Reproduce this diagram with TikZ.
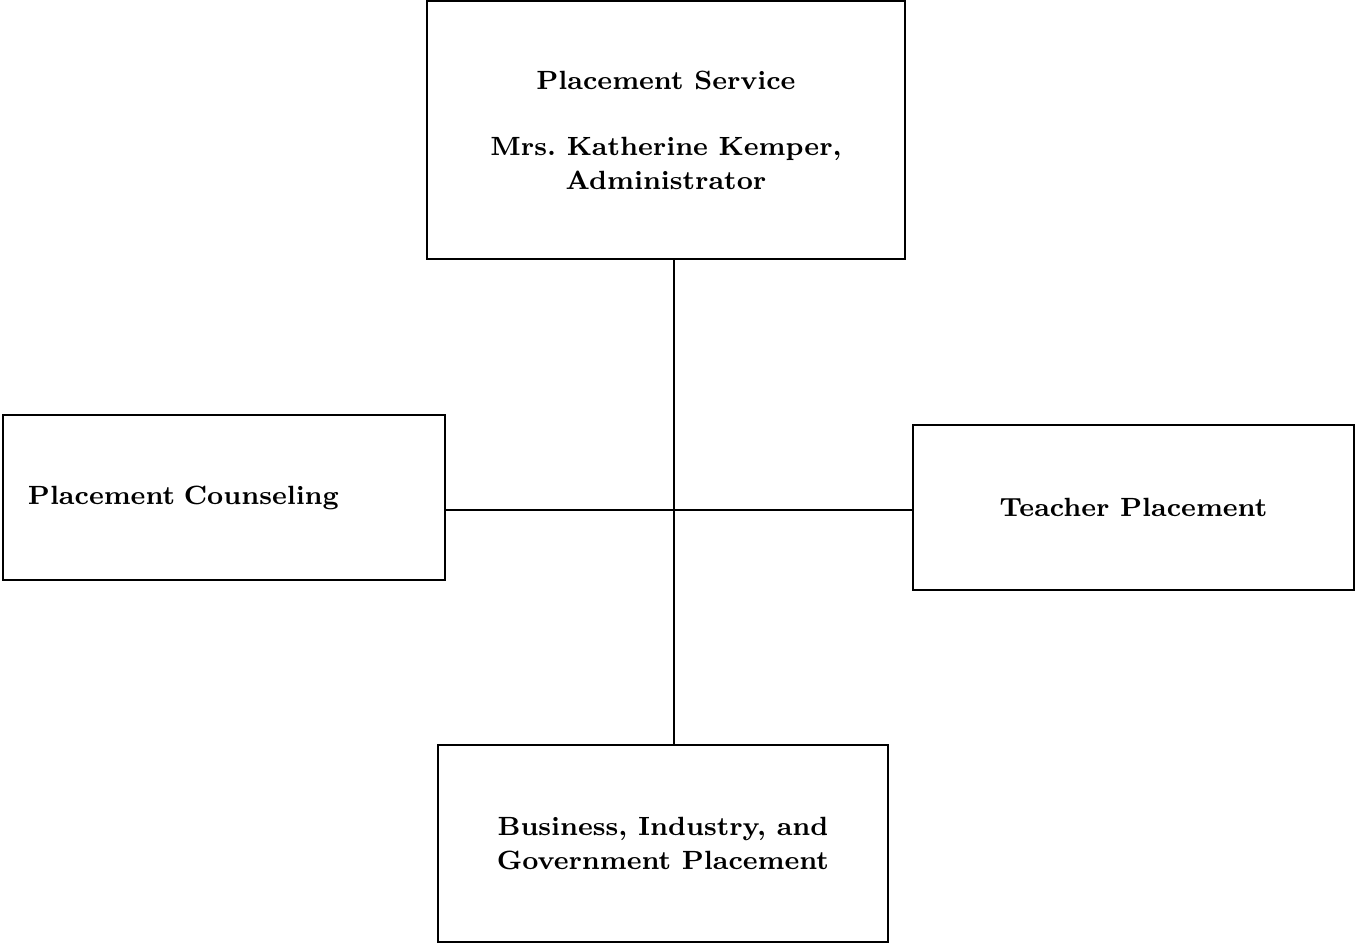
\documentclass[tikz,border=0pt]{standalone}
\usepackage{tikz}
\begin{document}
\begin{tikzpicture}[
    box/.style={draw,thick,inner sep=0pt,align=center,font=\bfseries\fontsize{7.5}{9.5}\selectfont},
]
    \useasboundingbox (0,0) rectangle (13.56,9.46);

    \node [box,minimum width=4.78cm,minimum height=2.58cm] (service) at (6.66,8.16)
        {Placement Service\\[9.5pt]Mrs.\ Katherine Kemper,\\Administrator};
    \node [box,minimum width=4.42cm,minimum height=1.65cm,text width=3.92cm,inner xsep=0.25cm,align=left] (counsel) at (2.24,4.485)
        {Placement Counseling};
    \node [box,minimum width=4.41cm,minimum height=1.65cm] (teacher) at (11.335,4.385)
        {Teacher Placement};
    \node [box,minimum width=4.5cm,minimum height=1.97cm] (business) at (6.63,1.025)
        {Business, Industry, and\\Government Placement};

    \coordinate (hub) at (6.74,4.36);
    \draw [thick] (service.south -| hub) -- (business.north -| hub);
    \draw [thick] (counsel.east |- hub) -- (teacher.west |- hub);
\end{tikzpicture}
\end{document}
